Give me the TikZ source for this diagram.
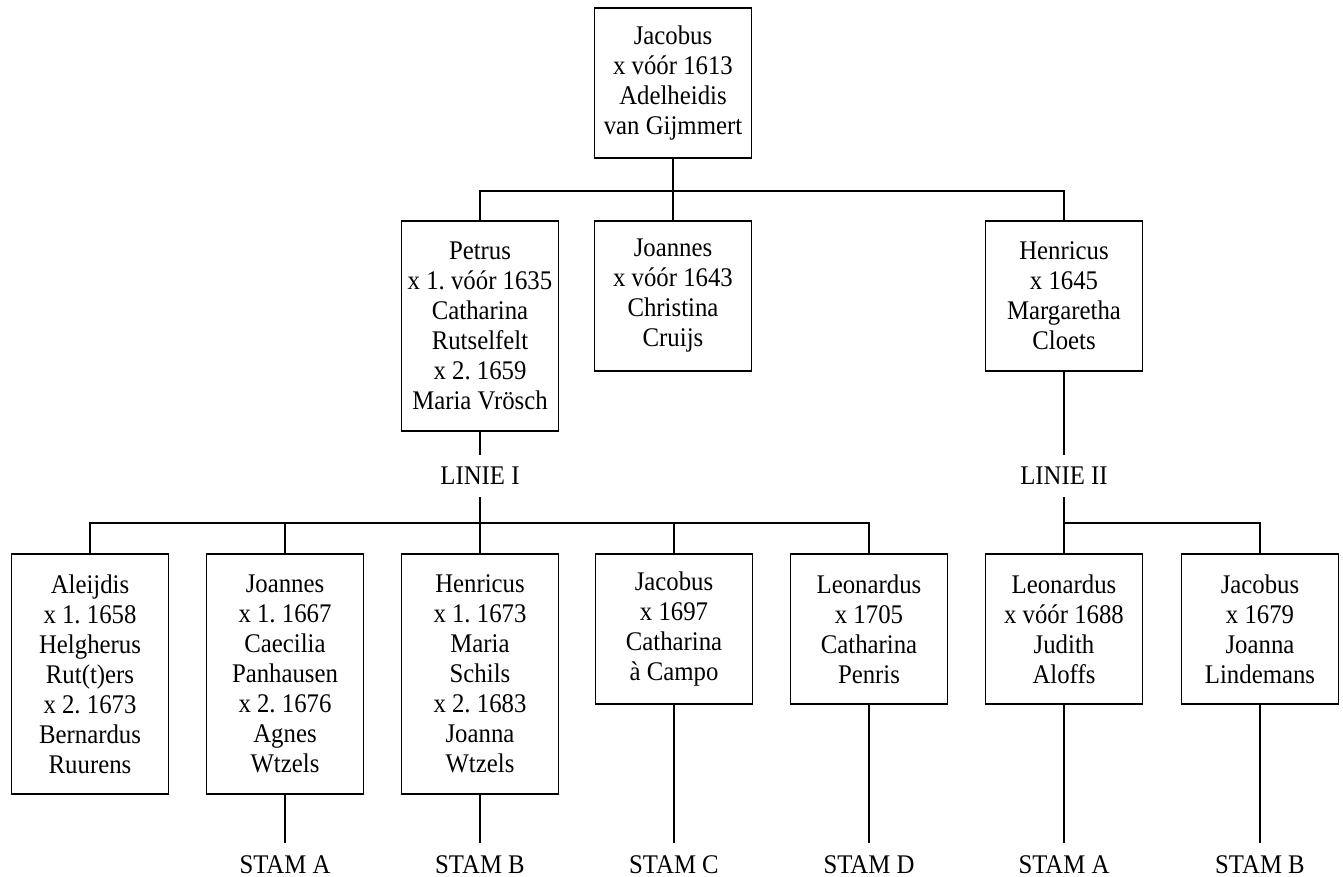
\documentclass[tikz,border=0pt]{standalone}
\usepackage{fontspec}
\setmainfont{Liberation Serif}[FakeStretch=0.92]
\usepackage{tikz}
\frenchspacing

\begin{document}
\begin{tikzpicture}[x=0.75pt,y=0.75pt,yscale=-1,xscale=1,
  person/.style={draw, line width=1pt, align=center, inner sep=0pt, minimum width=117.75pt, font=\fontsize{20.2pt}{22.5pt}\selectfont},
  fourlines/.style={minimum height=112.5pt},
  sixlines/.style={minimum height=157.5pt},
  sevenlines/.style={minimum height=180pt},
  linie/.style={inner sep=0pt, minimum height=31.5pt, font=\fontsize{20.2pt}{22.5pt}\selectfont},
  stam/.style={inner sep=0pt, minimum height=33pt, font=\fontsize{20.2pt}{22.5pt}\selectfont},
  tie/.style={line width=0.8pt}]
\useasboundingbox (0,0) rectangle (1343,877);
%Shape: Rectangle (top)
\node [person, fourlines] (jacobus) at (673,83) {Jacobus\\x vóór 1613\\Adelheidis\\van Gijmmert};
%Shape: Rectangle (children)
\node [person, sixlines] (petrus) at (480,326) {Petrus\\x 1. vóór 1635\\Catharina\\Rutselfelt\\x 2. 1659\\Maria Vrösch};
\node [person, fourlines] (joannes) at (673,296) {Joannes\\x vóór 1643\\Christina\\Cruijs};
\node [person, fourlines] (henricus) at (1064,296) {Henricus\\x 1645\\Margaretha\\Cloets};
%Text Node
\node [linie] (linieI) at (480,476) {LINIE I};
\node [linie] (linieII) at (1064,476) {LINIE II};
%Shape: Rectangle (grandchildren)
\node [person, sevenlines] (aleijdis) at (90,674) {Aleijdis\\x 1. 1658\\Helgherus\\Rut(t)ers\\x 2. 1673\\Bernardus\\Ruurens};
\node [person, sevenlines] (joannesI) at (285,674) {Joannes\\x 1. 1667\\Caecilia\\Panhausen\\x 2. 1676\\Agnes\\Wtzels};
\node [person, sevenlines] (henricusI) at (480,674) {Henricus\\x 1. 1673\\Maria\\Schils\\x 2. 1683\\Joanna\\Wtzels};
\node [person, fourlines] (jacobusI) at (674,629) {Jacobus\\x 1697\\Catharina\\à Campo};
\node [person, fourlines] (leonardusI) at (869,629) {Leonardus\\x 1705\\Catharina\\Penris};
\node [person, fourlines] (leonardusII) at (1064,629) {Leonardus\\x vóór 1688\\Judith\\Aloffs};
\node [person, fourlines] (jacobusII) at (1260,629) {Jacobus\\x 1679\\Joanna\\Lindemans};
%Text Node
\node [stam] (stamA) at (285,865) {STAM A};
\node [stam] (stamB) at (480,865) {STAM B};
\node [stam] (stamC) at (674,865) {STAM C};
\node [stam] (stamD) at (869,865) {STAM D};
\node [stam] (stamAII) at (1064,865) {STAM A};
\node [stam] (stamBII) at (1260,865) {STAM B};
%Straight Lines
\coordinate (forkTop) at (673,191);
\coordinate (forkI) at (480,523);
\coordinate (forkII) at (1064,523);
\draw [tie] (jacobus) -- (joannes);
\draw [tie] (petrus.north) |- (forkTop) -| (henricus.north);
\draw [tie] (petrus) -- (linieI);
\draw [tie] (henricus) -- (linieII);
\draw [tie] (linieI) -- (forkI);
\draw [tie] (aleijdis.north) |- (forkI) -| (leonardusI.north);
\foreach \n in {joannesI, henricusI, jacobusI}
  \draw [tie] (\n.north) -- (\n.north |- forkI);
\draw [tie] (linieII) -- (leonardusII);
\draw [tie] (forkII) -| (jacobusII.north);
\draw [tie] (joannesI) -- (stamA);
\draw [tie] (henricusI) -- (stamB);
\draw [tie] (jacobusI) -- (stamC);
\draw [tie] (leonardusI) -- (stamD);
\draw [tie] (leonardusII) -- (stamAII);
\draw [tie] (jacobusII) -- (stamBII);
\end{tikzpicture}
\end{document}
